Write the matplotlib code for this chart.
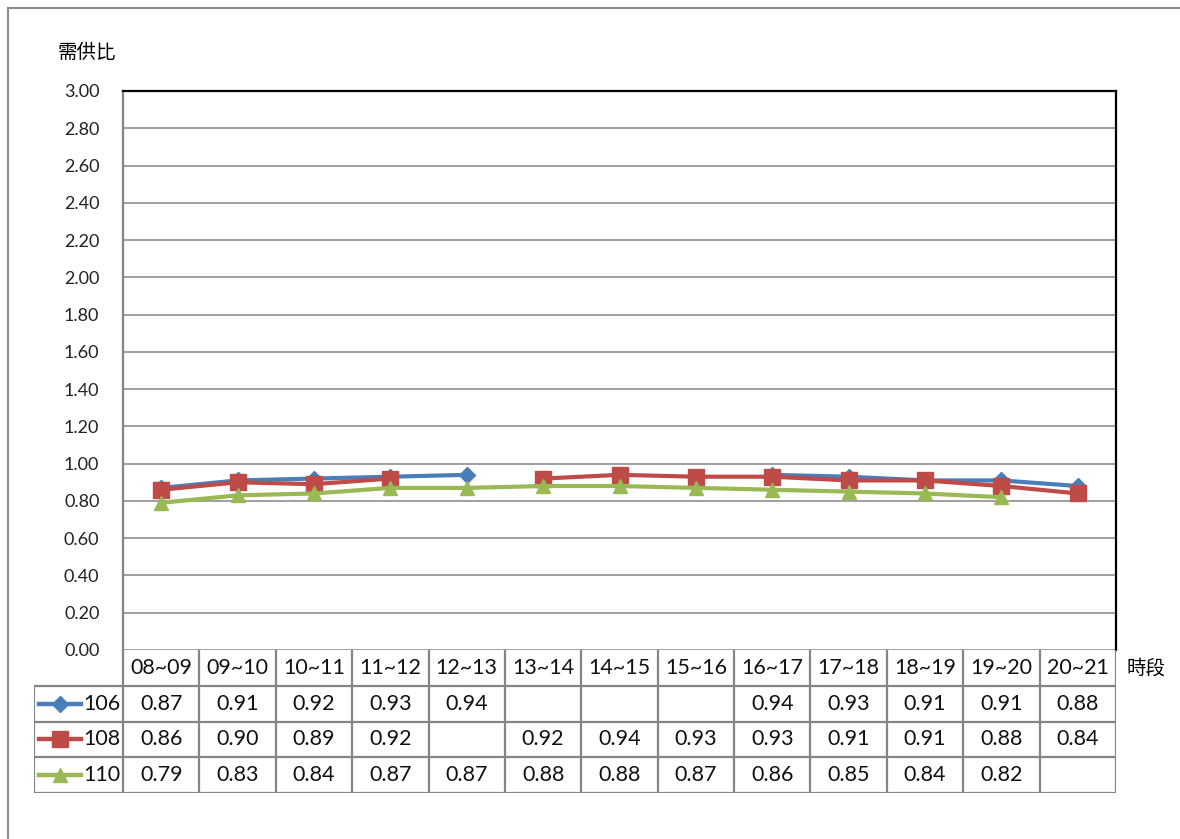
import matplotlib
matplotlib.use("Agg")
import matplotlib.pyplot as plt
import numpy as np
from matplotlib.lines import Line2D
from matplotlib.patches import Rectangle

# data
periods = ['08~09', '09~10', '10~11', '11~12', '12~13', '13~14', '14~15',
           '15~16', '16~17', '17~18', '18~19', '19~20', '20~21']
years = ['106', '108', '110']
v106 = [0.87, 0.91, 0.92, 0.93, 0.94, None, None, None, 0.94, 0.93, 0.91, 0.91, 0.88]
v108 = [0.86, 0.90, 0.89, 0.92, None, 0.92, 0.94, 0.93, 0.93, 0.91, 0.91, 0.88, 0.84]
v110 = [0.79, 0.83, 0.84, 0.87, 0.87, 0.88, 0.88, 0.87, 0.86, 0.85, 0.84, 0.82, None]
yticks = np.arange(0, 3.01, 0.2)

colors = ['#4A7EBB', '#BE4B48', '#98B954']
markers = ['D', 's', '^']
msizes = [8, 11, 10]
series = [v106, v108, v110]

W, H = 1180, 839
fig = plt.figure(figsize=(W / 100, H / 100), dpi=100)
plt.rcParams['font.family'] = ['Lato', 'Noto Sans CJK TC', 'DejaVu Sans']


def px(x0, y0, x1, y1):
    return [x0 / W, 1 - y1 / H, (x1 - x0) / W, (y1 - y0) / H]


# outer border
fig.patches.append(Rectangle((8 / W, -0.01), 1.2, 1 - 8 / H + 0.01, transform=fig.transFigure,
                             fill=False, edgecolor='#8c8c8c', linewidth=1.5))

ax = fig.add_axes(px(123, 91, 1116, 650))
n = len(periods)
x = np.arange(n)
for vals, c, m, ms in zip(series, colors, markers, msizes):
    y = np.array([np.nan if v is None else v for v in vals])
    ax.plot(x, y, color=c, linewidth=3.0, marker=m, markersize=ms,
            markeredgecolor=c, zorder=3)
ax.set_xlim(-0.5, n - 0.5)
ax.set_ylim(0, 3.0)
ax.set_yticks(yticks)
ax.set_yticklabels([f'{t:.2f}' for t in yticks], fontsize=13, color='#222222')
ax.set_xticks([])
ax.tick_params(axis='y', length=0, pad=17)
ax.yaxis.grid(True, color='#858585', linewidth=1.1)
ax.set_axisbelow(True)
for s in ['top', 'right']:
    ax.spines[s].set_color('black')
    ax.spines[s].set_linewidth(1.6)
ax.spines['left'].set_color('#858585')
ax.spines['left'].set_linewidth(1.6)
ax.spines['bottom'].set_visible(False)

# data table
unit = (1116 - 123) / n
extra = (123 - 34) / unit
tab = fig.add_axes(px(34, 650, 1116, 793))
tab.set_xlim(-0.5 - extra, n - 0.5)
tab.set_ylim(0, 4)
tab.axis('off')
gc = '#858585'
lw = 1.6
# horizontal lines
for yy in [3, 2, 1, 0]:
    tab.plot([-0.5 - extra, n - 0.5], [yy, yy], color=gc, lw=lw)
# vertical lines
for i in range(n + 1):
    tab.plot([i - 0.5, i - 0.5], [0, 4], color=gc, lw=lw)
tab.plot([-0.5 - extra, -0.5 - extra], [0, 3], color=gc, lw=lw)

fs = 15.5
for i, p in enumerate(periods):
    tab.text(i, 3.5, p, ha='center', va='center', fontsize=fs, color='#111111')
for r, (yr, vals, c, m, ms) in enumerate(zip(years, series, colors, markers, msizes)):
    yc = 2.5 - r
    x0 = -0.5 - extra + 0.06
    x1 = x0 + 0.55
    tab.add_line(Line2D([x0, x1], [yc, yc], color=c, lw=3.2))
    tab.add_line(Line2D([(x0 + x1) / 2], [yc], color=c, marker=m, markersize=ms,
                        markeredgecolor=c))
    tab.text(-0.5 - 0.03, yc, yr, ha='right', va='center', fontsize=fs, color='#111111')
    for i, v in enumerate(vals):
        if v is not None:
            tab.text(i, yc, f'{v:.2f}', ha='center', va='center', fontsize=fs, color='#111111')

fig.text(58 / W, 1 - 52 / H, '需供比', fontsize=14, va='center', ha='left',
         family=['Noto Sans CJK TC'])
fig.text(1126 / W, 1 - 668 / H, '時段', fontsize=14, va='center', ha='left',
         family=['Noto Sans CJK TC'])

fig.savefig('out.png', dpi=100)
